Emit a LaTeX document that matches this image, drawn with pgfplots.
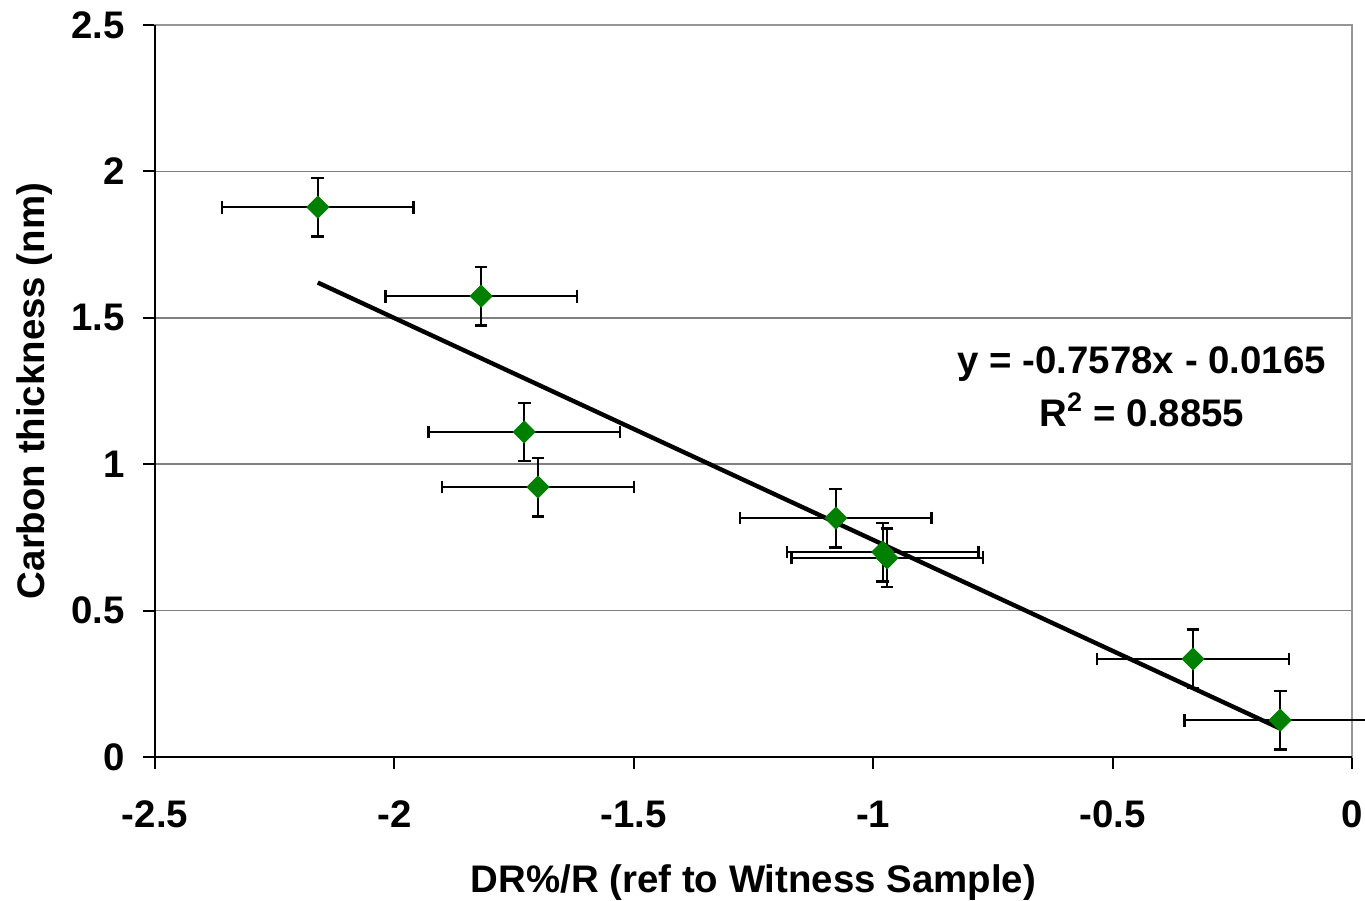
\documentclass[border=0pt]{standalone}
\usepackage{pgfplots}
\usepackage{pgfplotstable}
\pgfplotsset{compat=1.18}
\usepackage{fontspec}
\setmainfont{Liberation Sans}

\definecolor{markgreen}{RGB}{0,128,0}
\definecolor{gridgray}{RGB}{128,128,128}
\definecolor{boxgray}{RGB}{150,150,150}

% DR%/R, carbon thickness and their uncertainties
\pgfplotstableread{
x       y      ex   ey
-2.160  1.878  0.2  0.1
-1.819  1.574  0.2  0.1
-1.729  1.110  0.2  0.1
-1.700  0.922  0.2  0.1
-1.078  0.816  0.2  0.1
-0.980  0.700  0.2  0.1
-0.971  0.680  0.2  0.1
-0.332  0.335  0.2  0.1
-0.150  0.126  0.2  0.1
}\carbondata

\begin{document}
\begin{tikzpicture}
\begin{axis}[
  at={(0,0)}, anchor=south west,
  scale only axis, width=598.5pt, height=366pt,
  xmin=-2.5, xmax=0, ymin=0, ymax=2.5,
  xtick={-2.5,-2,-1.5,-1,-0.5,0},
  xticklabels={-2.5,-2,-1.5,-1,-0.5,0},
  ytick={0,0.5,1,1.5,2,2.5},
  yticklabels={0,0.5,1,1.5,2,2.5},
  font=\fontsize{19.2}{23}\selectfont\bfseries,
  tick label style={font=\fontsize{19.2}{23}\selectfont\bfseries},
  xticklabel style={anchor=center, yshift=-22.5pt},
  yticklabel style={anchor=east, inner sep=0pt, xshift=-9pt},
  xlabel={DR\%/R (ref to Witness Sample)},
  ylabel={Carbon thickness (nm)},
  xlabel style={at={(axis description cs:0.5,-0.172)}, anchor=center},
  ylabel style={at={(axis description cs:-0.1003,0.5)}, anchor=center},
  ymajorgrids, grid style={gridgray, line width=0.75pt},
  tick pos=left, tick align=outside,
  major tick length=6pt, tick style={black, line width=1pt},
  axis line style={boxgray, line width=1pt},
  clip=false,
]
\addplot[only marks, mark=square*, mark size=3.9pt,
  mark options={rotate=45, fill=markgreen, draw=markgreen},
  error bars/.cd, x dir=both, x explicit, y dir=both, y explicit,
  error mark=|,
  error bar style={black, line width=1.2pt},
  error mark options={black, line width=1.2pt, mark size=3.2pt}]
  table[x=x, y=y, x error=ex, y error=ey]{\carbondata};

% linear trend line, y = -0.7578x - 0.0165
\addplot[black, line width=2.2pt] coordinates {(-2.160,1.6203) (-0.150,0.0972)};

\draw[black, line width=1pt] (rel axis cs:0,1) -- (rel axis cs:0,0) -- (rel axis cs:1,0);

\node[align=center, font=\fontsize{19.2}{26.5}\selectfont\bfseries]
  at (axis cs:-0.439,1.264) {y = -0.7578x - 0.0165\\R\textsuperscript{2} = 0.8855};
\end{axis}
\pgfresetboundingbox
\useasboundingbox (-77.5pt,-71.5pt) rectangle (605pt,378.5pt);
\end{tikzpicture}
\end{document}
